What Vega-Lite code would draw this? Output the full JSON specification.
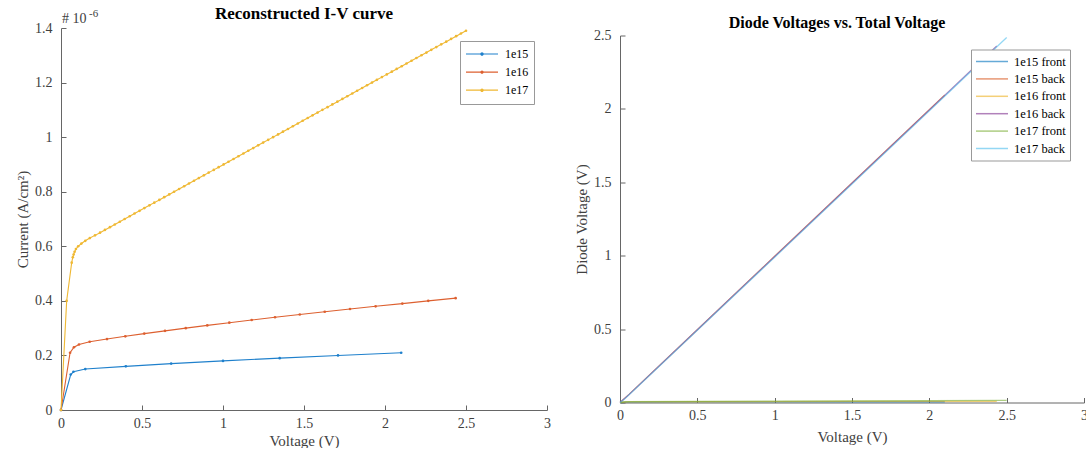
{
  "$schema": "https://vega.github.io/schema/vega-lite/v6.json",
  "background": "white",
  "padding": {"left": 15, "top": 5, "right": 0, "bottom": 0},
  "bounds": "flush",
  "center": true,
  "spacing": 73,
  "config": {
    "font": "Liberation Serif",
    "view": {"stroke": null},
    "axis": {
      "grid": false,
      "domainColor": "#666666",
      "tickColor": "#666666",
      "labelColor": "#404040",
      "titleColor": "#404040",
      "labelFont": "Liberation Serif",
      "titleFont": "Liberation Serif",
      "labelFontSize": 14,
      "titleFontSize": 15,
      "titleFontWeight": "normal",
      "labelFlush": false,
      "tickSize": -5
    },
    "axisX": {"labelPadding": 11, "titlePadding": 3},
    "axisY": {"labelPadding": 14, "titlePadding": 4},
    "title": {"font": "Liberation Serif", "fontSize": 16, "fontWeight": "bold", "color": "#000000", "frame": "group"},
    "legend": {
      "labelFont": "Liberation Serif",
      "labelFontSize": 12,
      "labelColor": "#000000",
      "strokeColor": "#999999",
      "fillColor": "white",
      "padding": 5,
      "symbolSize": 1024,
      "clipHeight": 16,
      "offset": 13
    }
  },
  "datasets": {
    "iv": [
      {"doping": "1e15", "V": 0, "I": 0},
      {"doping": "1e15", "V": 0.06, "I": 0.13},
      {"doping": "1e15", "V": 0.077, "I": 0.14},
      {"doping": "1e15", "V": 0.15, "I": 0.15},
      {"doping": "1e15", "V": 0.40, "I": 0.16},
      {"doping": "1e15", "V": 0.68, "I": 0.17},
      {"doping": "1e15", "V": 1.00, "I": 0.18},
      {"doping": "1e15", "V": 1.35, "I": 0.19},
      {"doping": "1e15", "V": 1.71, "I": 0.20},
      {"doping": "1e15", "V": 2.10, "I": 0.21},
      {"doping": "1e16", "V": 0, "I": 0},
      {"doping": "1e16", "V": 0.056, "I": 0.21},
      {"doping": "1e16", "V": 0.080, "I": 0.23},
      {"doping": "1e16", "V": 0.111, "I": 0.24},
      {"doping": "1e16", "V": 0.177, "I": 0.25},
      {"doping": "1e16", "V": 0.284, "I": 0.26},
      {"doping": "1e16", "V": 0.397, "I": 0.27},
      {"doping": "1e16", "V": 0.514, "I": 0.28},
      {"doping": "1e16", "V": 0.642, "I": 0.29},
      {"doping": "1e16", "V": 0.770, "I": 0.30},
      {"doping": "1e16", "V": 0.903, "I": 0.31},
      {"doping": "1e16", "V": 1.039, "I": 0.32},
      {"doping": "1e16", "V": 1.177, "I": 0.33},
      {"doping": "1e16", "V": 1.321, "I": 0.34},
      {"doping": "1e16", "V": 1.474, "I": 0.35},
      {"doping": "1e16", "V": 1.628, "I": 0.36},
      {"doping": "1e16", "V": 1.784, "I": 0.37},
      {"doping": "1e16", "V": 1.942, "I": 0.38},
      {"doping": "1e16", "V": 2.107, "I": 0.39},
      {"doping": "1e16", "V": 2.267, "I": 0.40},
      {"doping": "1e16", "V": 2.436, "I": 0.41},
      {"doping": "1e17", "V": 0, "I": 0},
      {"doping": "1e17", "V": 0.035, "I": 0.40},
      {"doping": "1e17", "V": 0.066, "I": 0.54},
      {"doping": "1e17", "V": 0.073, "I": 0.56},
      {"doping": "1e17", "V": 0.078, "I": 0.57},
      {"doping": "1e17", "V": 0.084, "I": 0.58},
      {"doping": "1e17", "V": 0.092, "I": 0.59},
      {"doping": "1e17", "V": 0.106, "I": 0.60},
      {"doping": "1e17", "V": 0.126, "I": 0.61},
      {"doping": "1e17", "V": 0.150, "I": 0.62},
      {"doping": "1e17", "V": 0.178, "I": 0.63},
      {"doping": "1e17", "V": 0.210, "I": 0.64},
      {"doping": "1e17", "V": 0.241, "I": 0.65},
      {"doping": "1e17", "V": 0.271, "I": 0.66},
      {"doping": "1e17", "V": 0.302, "I": 0.67},
      {"doping": "1e17", "V": 0.332, "I": 0.68},
      {"doping": "1e17", "V": 0.363, "I": 0.69},
      {"doping": "1e17", "V": 0.393, "I": 0.70},
      {"doping": "1e17", "V": 0.424, "I": 0.71},
      {"doping": "1e17", "V": 0.454, "I": 0.72},
      {"doping": "1e17", "V": 0.485, "I": 0.73},
      {"doping": "1e17", "V": 0.515, "I": 0.74},
      {"doping": "1e17", "V": 0.546, "I": 0.75},
      {"doping": "1e17", "V": 0.576, "I": 0.76},
      {"doping": "1e17", "V": 0.607, "I": 0.77},
      {"doping": "1e17", "V": 0.637, "I": 0.78},
      {"doping": "1e17", "V": 0.668, "I": 0.79},
      {"doping": "1e17", "V": 0.698, "I": 0.80},
      {"doping": "1e17", "V": 0.729, "I": 0.81},
      {"doping": "1e17", "V": 0.760, "I": 0.82},
      {"doping": "1e17", "V": 0.790, "I": 0.83},
      {"doping": "1e17", "V": 0.821, "I": 0.84},
      {"doping": "1e17", "V": 0.851, "I": 0.85},
      {"doping": "1e17", "V": 0.882, "I": 0.86},
      {"doping": "1e17", "V": 0.912, "I": 0.87},
      {"doping": "1e17", "V": 0.943, "I": 0.88},
      {"doping": "1e17", "V": 0.973, "I": 0.89},
      {"doping": "1e17", "V": 1.004, "I": 0.90},
      {"doping": "1e17", "V": 1.034, "I": 0.91},
      {"doping": "1e17", "V": 1.065, "I": 0.92},
      {"doping": "1e17", "V": 1.095, "I": 0.93},
      {"doping": "1e17", "V": 1.126, "I": 0.94},
      {"doping": "1e17", "V": 1.156, "I": 0.95},
      {"doping": "1e17", "V": 1.187, "I": 0.96},
      {"doping": "1e17", "V": 1.217, "I": 0.97},
      {"doping": "1e17", "V": 1.248, "I": 0.98},
      {"doping": "1e17", "V": 1.279, "I": 0.99},
      {"doping": "1e17", "V": 1.309, "I": 1.00},
      {"doping": "1e17", "V": 1.340, "I": 1.01},
      {"doping": "1e17", "V": 1.370, "I": 1.02},
      {"doping": "1e17", "V": 1.401, "I": 1.03},
      {"doping": "1e17", "V": 1.431, "I": 1.04},
      {"doping": "1e17", "V": 1.462, "I": 1.05},
      {"doping": "1e17", "V": 1.492, "I": 1.06},
      {"doping": "1e17", "V": 1.523, "I": 1.07},
      {"doping": "1e17", "V": 1.553, "I": 1.08},
      {"doping": "1e17", "V": 1.584, "I": 1.09},
      {"doping": "1e17", "V": 1.614, "I": 1.10},
      {"doping": "1e17", "V": 1.645, "I": 1.11},
      {"doping": "1e17", "V": 1.675, "I": 1.12},
      {"doping": "1e17", "V": 1.706, "I": 1.13},
      {"doping": "1e17", "V": 1.737, "I": 1.14},
      {"doping": "1e17", "V": 1.767, "I": 1.15},
      {"doping": "1e17", "V": 1.798, "I": 1.16},
      {"doping": "1e17", "V": 1.828, "I": 1.17},
      {"doping": "1e17", "V": 1.859, "I": 1.18},
      {"doping": "1e17", "V": 1.889, "I": 1.19},
      {"doping": "1e17", "V": 1.920, "I": 1.20},
      {"doping": "1e17", "V": 1.950, "I": 1.21},
      {"doping": "1e17", "V": 1.981, "I": 1.22},
      {"doping": "1e17", "V": 2.011, "I": 1.23},
      {"doping": "1e17", "V": 2.042, "I": 1.24},
      {"doping": "1e17", "V": 2.072, "I": 1.25},
      {"doping": "1e17", "V": 2.103, "I": 1.26},
      {"doping": "1e17", "V": 2.133, "I": 1.27},
      {"doping": "1e17", "V": 2.164, "I": 1.28},
      {"doping": "1e17", "V": 2.194, "I": 1.29},
      {"doping": "1e17", "V": 2.225, "I": 1.30},
      {"doping": "1e17", "V": 2.256, "I": 1.31},
      {"doping": "1e17", "V": 2.286, "I": 1.32},
      {"doping": "1e17", "V": 2.317, "I": 1.33},
      {"doping": "1e17", "V": 2.347, "I": 1.34},
      {"doping": "1e17", "V": 2.378, "I": 1.35},
      {"doping": "1e17", "V": 2.408, "I": 1.36},
      {"doping": "1e17", "V": 2.439, "I": 1.37},
      {"doping": "1e17", "V": 2.469, "I": 1.38},
      {"doping": "1e17", "V": 2.500, "I": 1.39}
    ],
    "dv": [
      {"trace": "1e15 front", "V": 0, "D": 0},
      {"trace": "1e15 front", "V": 0.06, "D": 0.003},
      {"trace": "1e15 front", "V": 0.5, "D": 0.004},
      {"trace": "1e15 front", "V": 1.0, "D": 0.004},
      {"trace": "1e15 front", "V": 1.5, "D": 0.005},
      {"trace": "1e15 front", "V": 2.10, "D": 0.005},
      {"trace": "1e15 back", "V": 0, "D": 0},
      {"trace": "1e15 back", "V": 0.06, "D": 0.057},
      {"trace": "1e15 back", "V": 0.5, "D": 0.496},
      {"trace": "1e15 back", "V": 1.0, "D": 0.996},
      {"trace": "1e15 back", "V": 1.5, "D": 1.495},
      {"trace": "1e15 back", "V": 2.10, "D": 2.095},
      {"trace": "1e16 front", "V": 0, "D": 0},
      {"trace": "1e16 front", "V": 0.056, "D": 0.004},
      {"trace": "1e16 front", "V": 0.5, "D": 0.005},
      {"trace": "1e16 front", "V": 1.0, "D": 0.006},
      {"trace": "1e16 front", "V": 1.5, "D": 0.007},
      {"trace": "1e16 front", "V": 2.0, "D": 0.008},
      {"trace": "1e16 front", "V": 2.436, "D": 0.008},
      {"trace": "1e16 back", "V": 0, "D": 0},
      {"trace": "1e16 back", "V": 0.056, "D": 0.052},
      {"trace": "1e16 back", "V": 0.5, "D": 0.495},
      {"trace": "1e16 back", "V": 1.0, "D": 0.994},
      {"trace": "1e16 back", "V": 1.5, "D": 1.493},
      {"trace": "1e16 back", "V": 2.0, "D": 1.992},
      {"trace": "1e16 back", "V": 2.436, "D": 2.428},
      {"trace": "1e17 front", "V": 0, "D": 0},
      {"trace": "1e17 front", "V": 0.035, "D": 0.006},
      {"trace": "1e17 front", "V": 0.5, "D": 0.008},
      {"trace": "1e17 front", "V": 1.0, "D": 0.010},
      {"trace": "1e17 front", "V": 1.5, "D": 0.011},
      {"trace": "1e17 front", "V": 2.0, "D": 0.013},
      {"trace": "1e17 front", "V": 2.5, "D": 0.014},
      {"trace": "1e17 back", "V": 0, "D": 0},
      {"trace": "1e17 back", "V": 0.035, "D": 0.029},
      {"trace": "1e17 back", "V": 0.5, "D": 0.492},
      {"trace": "1e17 back", "V": 1.0, "D": 0.990},
      {"trace": "1e17 back", "V": 1.5, "D": 1.489},
      {"trace": "1e17 back", "V": 2.0, "D": 1.987},
      {"trace": "1e17 back", "V": 2.5, "D": 2.486}
    ]
  },
  "resolve": {
    "scale": {"x": "independent", "y": "independent", "color": "independent"},
    "legend": {"color": "independent"}
  },
  "hconcat": [
    {
      "width": 486,
      "height": 382,
      "title": {"text": "Reconstructed I-V curve", "offset": -15, "fontSize": 17},
      "layer": [
        {
          "data": {"name": "iv"},
          "mark": {"type": "line", "strokeWidth": 1.1, "point": {"filled": true, "size": 7}},
          "encoding": {
            "x": {"field": "V", "type": "quantitative", "scale": {"domain": [0, 3], "nice": false},
                  "axis": {"title": "Voltage (V)", "values": [0, 0.5, 1, 1.5, 2, 2.5, 3], "format": "~g"}},
            "y": {"field": "I", "type": "quantitative", "scale": {"domain": [0, 1.4], "nice": false},
                  "axis": {"title": "Current (A/cm²)", "values": [0, 0.2, 0.4, 0.6, 0.8, 1, 1.2, 1.4], "format": "~g"}},
            "color": {"field": "doping", "type": "nominal",
                      "scale": {"domain": ["1e15", "1e16", "1e17"], "range": ["#1f80cc", "#dd6030", "#efb833"]},
                      "legend": {"title": null, "orient": "top-right",
                                 "symbolType": "M-1,0H1M0,-0.07A0.07,0.07,0,1,1,0,0.07A0.07,0.07,0,1,1,0,-0.07Z",
                                 "symbolStrokeWidth": 1.2, "labelOffset": 6, "rowPadding": 2.1,
                                 "labelExpr": "datum.label + '\u00a0\u00a0'"}}
          }
        },
        {
          "data": {"values": [{}]},
          "mark": {"type": "text", "text": "# 10", "align": "left", "baseline": "alphabetic", "dx": 1, "dy": -5, "fontSize": 14, "color": "#404040"},
          "encoding": {
            "x": {"datum": 0, "type": "quantitative"},
            "y": {"datum": 1.4, "type": "quantitative"}
          }
        },
        {
          "data": {"values": [{}]},
          "mark": {"type": "text", "text": "-6", "align": "left", "baseline": "alphabetic", "dx": 28, "dy": -11, "fontSize": 11, "color": "#404040"},
          "encoding": {
            "x": {"datum": 0, "type": "quantitative"},
            "y": {"datum": 1.4, "type": "quantitative"}
          }
        }
      ]
    },
    {
      "width": 464,
      "height": 367,
      "title": {"text": "Diode Voltages vs. Total Voltage", "offset": -2, "dx": -15},
      "data": {"name": "dv"},
      "mark": {"type": "line", "strokeWidth": 1.3, "opacity": 0.6},
      "encoding": {
        "x": {"field": "V", "type": "quantitative", "scale": {"domain": [0, 3], "nice": false},
              "axis": {"title": "Voltage (V)", "values": [0, 0.5, 1, 1.5, 2, 2.5, 3], "format": "~g", "titlePadding": 7}},
        "y": {"field": "D", "type": "quantitative", "scale": {"domain": [0, 2.5], "nice": false},
              "axis": {"title": "Diode Voltage (V)", "values": [0, 0.5, 1, 1.5, 2, 2.5], "format": "~g"}},
        "color": {"field": "trace", "type": "nominal",
                  "scale": {"domain": ["1e15 front", "1e15 back", "1e16 front", "1e16 back", "1e17 front", "1e17 back"],
                            "range": ["#0072BD", "#D95319", "#EDB120", "#7E2F8E", "#77AC30", "#4DBEEE"]},
                  "legend": {"title": null, "orient": "top-right", "symbolType": "stroke", "offset": 14,
                             "symbolStrokeWidth": 1.5, "labelOffset": 5, "rowPadding": 1.4, "padding": 4,
                             "labelFontSize": 12.5}}
      }
    }
  ]
}
